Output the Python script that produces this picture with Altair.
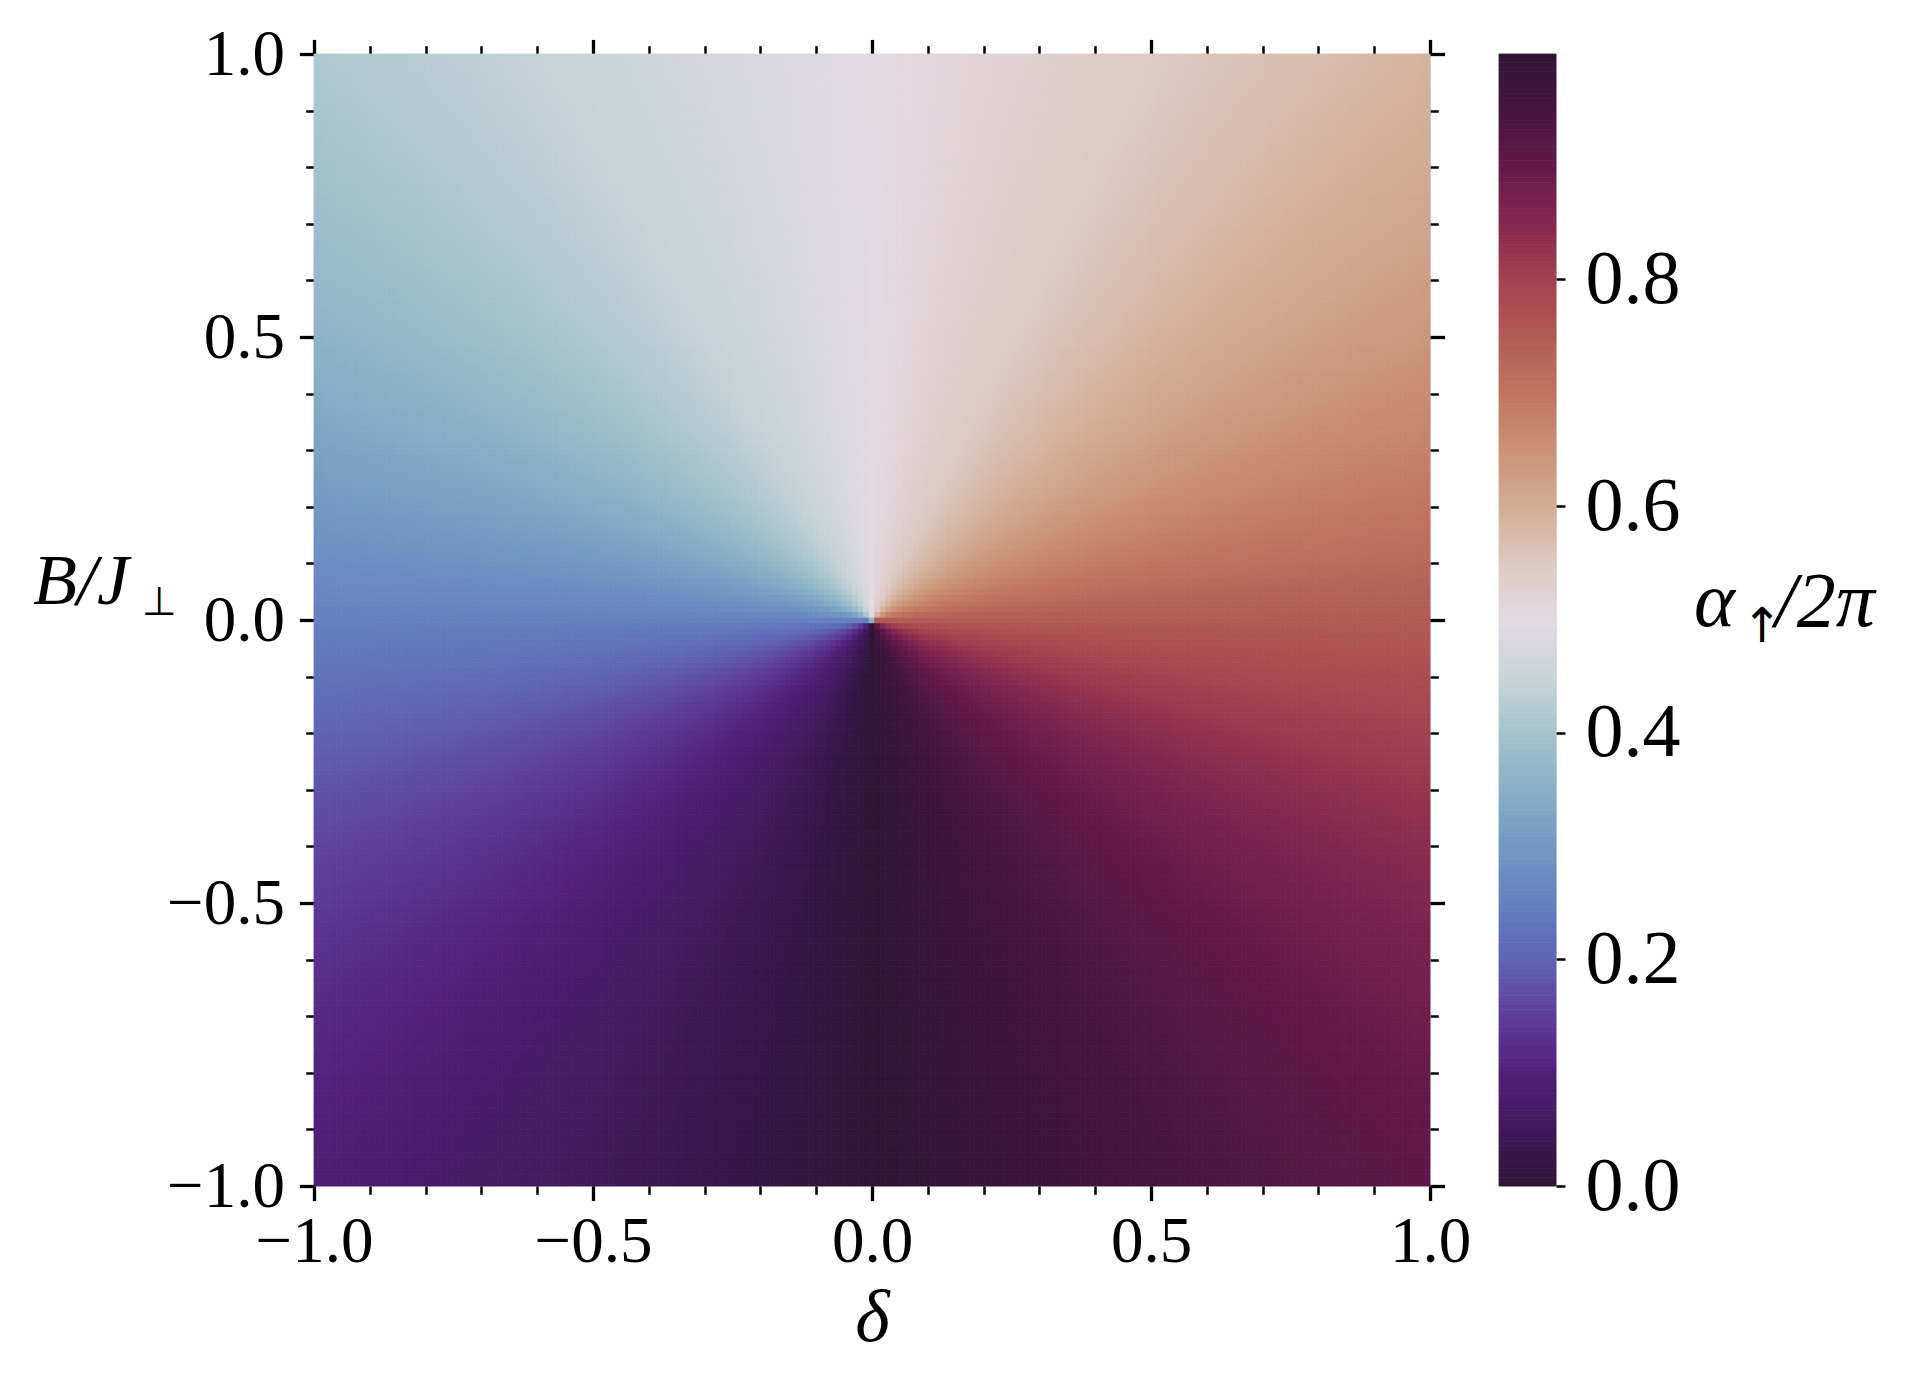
import numpy as np
import pandas as pd
import altair as alt

alt.data_transformers.disable_max_rows()

# ---------------- data ----------------
N = 201
delta_grid = np.linspace(-1.0, 1.0, N)
B_grid = np.linspace(-1.0, 1.0, N)
B_weight = 1.6        # relative weight of B in the phase angle
center_value = 0.36   # colour of the singular centre cell

x_major = [-1.0, -0.5, 0.0, 0.5, 1.0]
y_major = [-1.0, -0.5, 0.0, 0.5, 1.0]
minor_ticks = [round(-1 + 0.1 * k, 1) for k in range(21)]
cb_ticks = [0.0, 0.2, 0.4, 0.6, 0.8]

# twilight_shifted-like colormap
cmap_pos = [0.00, 0.05, 0.10, 0.15, 0.20, 0.25, 0.30, 0.35, 0.40, 0.45, 0.50,
            0.55, 0.60, 0.65, 0.70, 0.75, 0.80, 0.85, 0.90, 0.95, 1.00]
cmap_colors = ["#2f1436", "#40195a", "#51207a", "#5e3d9d", "#5f63b6", "#6580bf",
               "#7199c3", "#87b0c6", "#a6c3cb", "#c9d5d8", "#e2d9e2", "#dccac3",
               "#d3ad96", "#ca9274", "#c1765f", "#b25b55", "#a2424f", "#86284f",
               "#65194a", "#461540", "#2f1436"]

D, Bm = np.meshgrid(delta_grid, B_grid, indexing="ij")
alpha = np.mod(np.arctan2(-D, -B_weight * Bm) / (2 * np.pi), 1.0)
alpha[N // 2, N // 2] = center_value
vmax = float(alpha.max())

ii, jj = np.meshgrid(np.arange(N), np.arange(N), indexing="ij")
df = pd.DataFrame({"i": ii.ravel(), "j": jj.ravel(), "v": alpha.ravel().round(4)})

cb_edges = np.linspace(0.0, vmax, 257)
cb_df = pd.DataFrame({"lo": cb_edges[:-1], "hi": cb_edges[1:],
                      "mid": 0.5 * (cb_edges[:-1] + cb_edges[1:])})

# ---------------- styling ----------------
FONT = "Liberation Serif"
W, H = 1116, 1132
CBW = 57
MAJ, MIN = 14.6, 8.3
MAJW, MINW = 3.3, 2.5

cscale = alt.Scale(domain=[p * vmax for p in cmap_pos], range=cmap_colors,
                   interpolate="rgb", clamp=True)
xs = alt.Scale(domain=[-1, 1], nice=False, zero=False)
ys = alt.Scale(domain=[-1, 1], nice=False, zero=False)


def ax(orient, values, size, width, labels=False, **kw):
    return alt.Axis(orient=orient, values=values, tickSize=size, tickWidth=width,
                    tickColor="black", labels=labels, domain=False, grid=False,
                    title=kw.pop("title", None), labelFlush=False, labelOverlap=False,
                    labelFont=FONT, labelColor="black", **kw)


heat = alt.Chart(df).transform_calculate(
    x0="-1 + datum.i * 2 / %d" % N,
    x1="-1 + (datum.i + 1) * 2 / %d" % N,
    y0="-1 + datum.j * 2 / %d" % N,
    y1="-1 + (datum.j + 1) * 2 / %d" % N,
).mark_rect(strokeWidth=0.8).encode(
    x=alt.X("x0:Q", scale=xs,
            axis=ax("bottom", x_major, MAJ, MAJW, labels=True, format=".1f",
                    labelFontSize=65, labelPadding=10, title="δ",
                    titleFont=FONT, titleFontSize=74, titleFontStyle="italic",
                    titleFontWeight="normal", titleColor="black", titlePadding=8)),
    x2="x1:Q",
    y=alt.Y("y0:Q", scale=ys,
            axis=ax("left", y_major, MAJ, MAJW, labels=True, format=".1f",
                    labelFontSize=65, labelPadding=15)),
    y2="y1:Q",
    color=alt.Color("v:Q", scale=cscale, legend=None),
    stroke=alt.Stroke("v:Q", scale=cscale, legend=None),
)

dummy = alt.Data(values=[{"x": 0, "y": 0}])


def axes_layer(xorient, yorient, vals_x, vals_y, size, width):
    return alt.Chart(dummy).mark_point(opacity=0).encode(
        x=alt.X("x:Q", scale=xs, axis=ax(xorient, vals_x, size, width)),
        y=alt.Y("y:Q", scale=ys, axis=ax(yorient, vals_y, size, width)),
    )


l_top_major = axes_layer("top", "right", x_major, y_major, MAJ, MAJW)
l_bot_minor = axes_layer("bottom", "left", minor_ticks, minor_ticks, MIN, MINW)
l_top_minor = axes_layer("top", "right", minor_ticks, minor_ticks, MIN, MINW)

one = alt.Data(values=[{"a": 1}])
ylab_main = alt.Chart(one).mark_text(
    text="B/J", font=FONT, fontSize=72, fontStyle="italic", align="left",
    baseline="alphabetic", color="black"
).encode(x=alt.value(-281), y=alt.value(550))
ylab_sub = alt.Chart(one).mark_text(
    text="⊥", font="DejaVu Sans", fontSize=40, align="left",
    baseline="alphabetic", color="black"
).encode(x=alt.value(-172), y=alt.value(561))

main = alt.layer(heat, l_top_major, l_bot_minor, l_top_minor, ylab_main, ylab_sub).resolve_axis(
    x="independent", y="independent"
).properties(width=W, height=H)

# ---------------- colorbar ----------------
cb_rect = alt.Chart(cb_df).mark_rect(strokeWidth=0.8).encode(
    y=alt.Y("lo:Q", scale=alt.Scale(domain=[0, vmax], nice=False, zero=False),
            axis=alt.Axis(orient="right", values=cb_ticks, format=".1f", tickSize=9,
                          tickWidth=2.5, tickColor="black", domain=False, grid=False,
                          title=None, labelFont=FONT, labelFontSize=76, labelColor="black",
                          labelPadding=20, labelFlush=False, labelOverlap=False)),
    y2="hi:Q",
    color=alt.Color("mid:Q", scale=cscale, legend=None),
    stroke=alt.Stroke("mid:Q", scale=cscale, legend=None),
)
cb_a = alt.Chart(one).mark_text(
    text="α", font=FONT, fontSize=78, fontStyle="italic", align="left",
    baseline="alphabetic", color="black"
).encode(x=alt.value(195), y=alt.value(572))
cb_arrow = alt.Chart(one).mark_text(
    text="↑", font="DejaVu Sans", fontSize=48, align="left",
    baseline="alphabetic", color="black"
).encode(x=alt.value(243), y=alt.value(588))
cb_rest = alt.Chart(one).mark_text(
    text="/2π", font=FONT, fontSize=78, fontStyle="italic", align="left",
    baseline="alphabetic", color="black"
).encode(x=alt.value(276), y=alt.value(572))

colorbar = alt.layer(cb_rect, cb_a, cb_arrow, cb_rest).properties(width=CBW, height=H)

chart = alt.hconcat(main, colorbar, spacing=26).properties(
    padding={"left": 24, "top": 13, "right": 10, "bottom": 10}
).configure_view(stroke="black", strokeWidth=3.3).configure(background="white")

chart.save("out.html", embed_options={"renderer": "svg", "actions": False})
